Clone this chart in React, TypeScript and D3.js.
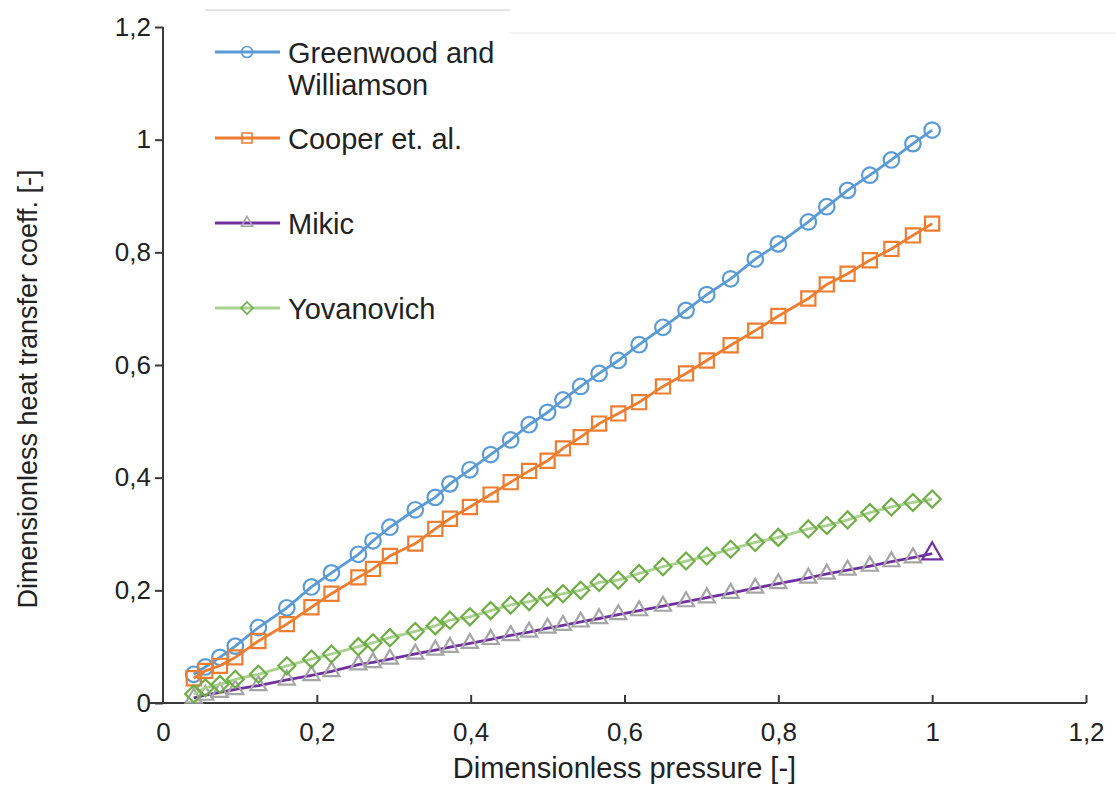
import React, { useEffect, useRef } from 'react';
import * as d3 from 'd3';

// dimensionless pressure (shared by all series)
const pressure = [
  0.04, 0.055, 0.074, 0.094, 0.124, 0.161, 0.193, 0.219, 0.254, 0.273, 0.295, 0.328, 0.354,
  0.373, 0.399, 0.426, 0.452, 0.476, 0.5, 0.52, 0.543, 0.567, 0.592, 0.619, 0.65, 0.68,
  0.707, 0.738, 0.77, 0.8, 0.839, 0.863, 0.89, 0.919, 0.947, 0.975, 1.0,
];

const greenwood = [
  0.051, 0.064, 0.081, 0.101, 0.134, 0.169, 0.206, 0.231, 0.264, 0.288, 0.312, 0.343, 0.365,
  0.389, 0.414, 0.441, 0.467, 0.494, 0.516, 0.538, 0.562, 0.585, 0.608, 0.636, 0.667, 0.697,
  0.725, 0.753, 0.788, 0.815, 0.854, 0.881, 0.91, 0.937, 0.964, 0.993, 1.017,
];

const cooper = [
  0.044, 0.057, 0.066, 0.081, 0.11, 0.14, 0.17, 0.194, 0.223, 0.238, 0.261, 0.283, 0.309,
  0.327, 0.348, 0.37, 0.392, 0.412, 0.43, 0.452, 0.472, 0.496, 0.514, 0.534, 0.562, 0.585,
  0.608, 0.635, 0.661, 0.687, 0.718, 0.743, 0.762, 0.786, 0.806, 0.83, 0.851,
];

const mikic = [
  0.009, 0.014, 0.019, 0.024, 0.031, 0.041, 0.049, 0.056, 0.068, 0.072, 0.078, 0.087, 0.094,
  0.099, 0.106, 0.113, 0.12, 0.126, 0.133, 0.138, 0.144, 0.15, 0.157, 0.164, 0.172, 0.18,
  0.187, 0.195, 0.204, 0.212, 0.222, 0.229, 0.236, 0.243, 0.251, 0.258, 0.265,
];

const yovanovich = [
  0.016, 0.027, 0.033, 0.042, 0.051, 0.066, 0.078, 0.087, 0.1, 0.107, 0.116, 0.127, 0.137,
  0.147, 0.153, 0.164, 0.174, 0.18, 0.188, 0.194, 0.2, 0.214, 0.218, 0.23, 0.242, 0.252,
  0.261, 0.273, 0.285, 0.294, 0.309, 0.315, 0.325, 0.338, 0.348, 0.356, 0.362,
];

const xTicks = [0, 0.2, 0.4, 0.6, 0.8, 1, 1.2];
const yTicks = [0, 0.2, 0.4, 0.6, 0.8, 1, 1.2];

const seriesNames = ['Greenwood and\nWilliamson', 'Cooper et. al.', 'Mikic', 'Yovanovich'];

const FONT = '"Liberation Sans", Arial, sans-serif';
const fmt = (v: number) => String(v).replace('.', ',');

function App() {
  const ref = useRef<SVGSVGElement>(null);

  useEffect(() => {
    const width = 1116, height = 787;
    const svg = d3.select(ref.current).attr('width', width).attr('height', height);
    svg.selectAll('*').remove();

    const x = d3.scaleLinear().domain([0, 1.2]).range([163, 1086]);
    const y = d3.scaleLinear().domain([0, 1.2]).range([703, 27]);

    // faint scan artifacts at the top
    svg.append('line').attr('x1', 205).attr('x2', 510).attr('y1', 10).attr('y2', 10).attr('stroke', '#c8c8c8').attr('stroke-width', 1);
    svg.append('line').attr('x1', 510).attr('x2', width).attr('y1', 33).attr('y2', 33).attr('stroke', '#ececec').attr('stroke-width', 1);

    // axes
    const axisColor = '#3a3a3a';
    const yAxis = svg.append('g').attr('transform', `translate(${x(0)},0)`)
      .call(d3.axisLeft(y).tickValues(yTicks).tickSize(8).tickFormat(d => fmt(+d)));
    yAxis.select('.domain').attr('stroke', axisColor).attr('stroke-width', 2).attr('d', `M0,${y(1.2)}V${y(0)}`);
    yAxis.selectAll('.tick line').attr('stroke', axisColor).attr('stroke-width', 2);
    yAxis.selectAll('.tick text').attr('x', -12).attr('font-size', 26).attr('font-family', FONT).attr('fill', '#222');

    const xAxis = svg.append('g').attr('transform', `translate(0,${y(0)})`)
      .call(d3.axisBottom(x).tickValues(xTicks).tickSize(-8).tickFormat(d => fmt(+d)));
    xAxis.select('.domain').attr('stroke', axisColor).attr('stroke-width', 2).attr('d', `M${x(0) - 13},0H${x(1.2)}`);
    xAxis.selectAll('.tick line').attr('stroke', axisColor).attr('stroke-width', 2);
    xAxis.selectAll('.tick').filter(d => d === 0).select('line').remove();
    xAxis.selectAll('.tick text').attr('y', 20).attr('font-size', 26).attr('font-family', FONT).attr('fill', '#222');

    svg.append('text').attr('x', (x(0) + x(1.2)) / 2).attr('y', 778).attr('text-anchor', 'middle')
      .attr('font-size', 29).attr('font-family', FONT).attr('fill', '#222').text('Dimensionless pressure [-]');
    svg.append('text').attr('transform', `translate(37,${(y(0) + y(1.2)) / 2 + 24}) rotate(-90)`).attr('text-anchor', 'middle')
      .attr('font-size', 27).attr('font-family', FONT).attr('fill', '#222').text('Dimensionless heat transfer coeff. [-]');

    const line = d3.line<number>().x((_, i) => x(pressure[i])).y(d => y(d));

    const symCircle = d3.symbol(d3.symbolCircle);
    const symSquare = d3.symbol(d3.symbolSquare);
    const symDiamond = d3.symbol(d3.symbolDiamond2);
    const symTriangle = d3.symbol(d3.symbolTriangle2);

    const series = [
      { values: greenwood, line: '#5b9bd5', width: 2.8, marker: '#5b9bd5', sym: symCircle, size: 190 },
      { values: cooper, line: '#ed7d31', width: 2.8, marker: '#ed7d31', sym: symSquare, size: 200 },
      { values: mikic, line: '#7030a0', width: 2.8, marker: '#a5a5a5', sym: symTriangle, size: 185 },
      { values: yovanovich, line: '#a9d18e', width: 2.8, marker: '#70ad47', sym: symDiamond, size: 185 },
    ];

    const plot = svg.append('g');
    series.forEach((s, si) => {
      plot.append('path').datum(s.values).attr('d', line).attr('fill', 'none')
        .attr('stroke', s.line).attr('stroke-width', s.width);
      plot.selectAll(`.m${si}`).data(s.values).join('path').attr('class', `m${si}`)
        .attr('transform', (d, i) => `translate(${x(pressure[i])},${y(d)})`)
        .attr('d', (d, i) => {
          const last = si === 2 && i === s.values.length - 1;
          return s.sym.size(last ? 280 : s.size)();
        })
        .attr('fill', 'none')
        .attr('stroke', (d, i) => (si === 2 && i === s.values.length - 1 ? '#7030a0' : s.marker))
        .attr('stroke-width', 2.2);
    });

    // legend
    const legendY = [52, 138, 223, 308];
    const leg = svg.append('g');
    series.forEach((s, si) => {
      const ly = legendY[si];
      leg.append('line').attr('x1', 215).attr('x2', 280).attr('y1', ly).attr('y2', ly)
        .attr('stroke', s.line).attr('stroke-width', 2.8);
      leg.append('path').attr('transform', `translate(247,${ly})`).attr('d', s.sym.size(s.size * 0.5)())
        .attr('fill', 'none').attr('stroke', s.marker).attr('stroke-width', 1.6);
      const t = leg.append('text').attr('x', 288).attr('y', ly + 11).attr('font-size', 29)
        .attr('font-family', FONT).attr('fill', '#222');
      seriesNames[si].split('\n').forEach((part, k) => {
        t.append('tspan').attr('x', 288).attr('dy', k === 0 ? 0 : 32).text(part);
      });
    });
  }, []);

  return <svg ref={ref} style={{ position: 'absolute', left: 0, top: 0, background: '#fff' }}></svg>;
}

export default App;
